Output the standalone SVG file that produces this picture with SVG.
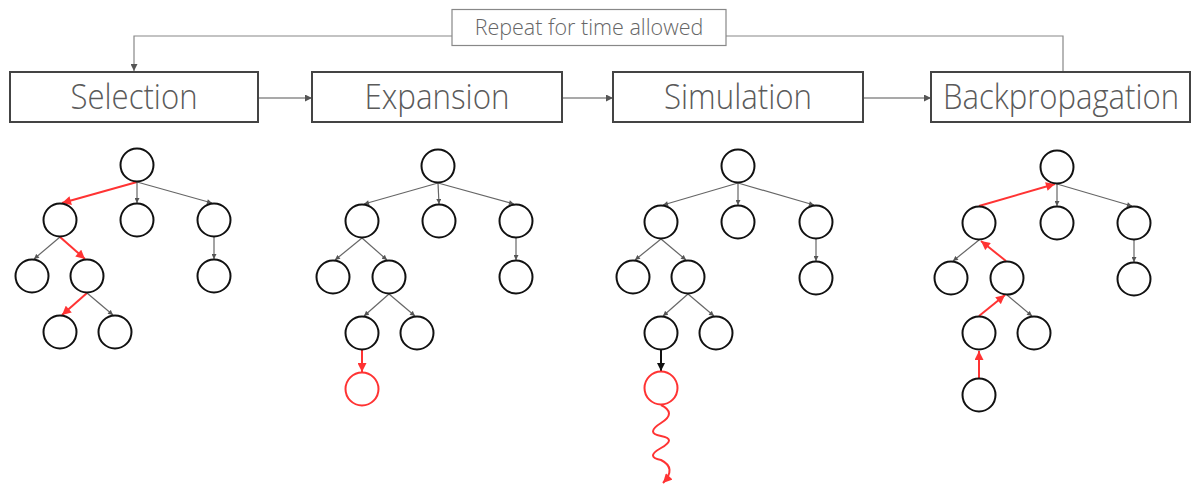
<svg xmlns="http://www.w3.org/2000/svg" width="1192" height="486" viewBox="0 0 1192 486">
<style>
.box{fill:#fff;stroke:#444;stroke-width:2}
.rbox{fill:#fff;stroke:#888;stroke-width:1.2}
.title{font-family:"Open Sans","Liberation Sans",sans-serif;font-weight:300;font-size:30px;fill:#5a5a5a;text-anchor:middle}
.rtxt{font-family:"Open Sans","Liberation Sans",sans-serif;font-weight:300;font-size:21.5px;fill:#666;text-anchor:middle}
.flow{fill:none;stroke:#555;stroke-width:1.2;marker-end:url(#af)}
.loop{fill:none;stroke:#888;stroke-width:1.2}
.n{fill:#fff;stroke:#111;stroke-width:2}
.nr{fill:#fff;stroke:#f33;stroke-width:2}
.eg{fill:none;stroke:#666;stroke-width:1.2;marker-end:url(#ag)}
.er{fill:none;stroke:#f33;stroke-width:2;marker-end:url(#ar)}
.eb{fill:none;stroke:#111;stroke-width:2;marker-end:url(#ab)}
</style>
<defs>
<marker id="af" viewBox="0 0 10 10" refX="10" refY="5" markerWidth="8" markerHeight="7" orient="auto" markerUnits="userSpaceOnUse"><path d="M0,0 L10,5 L0,10 z" fill="#555"/></marker>
<marker id="ag" viewBox="0 0 10 10" refX="10" refY="5" markerWidth="6" markerHeight="5" orient="auto" markerUnits="userSpaceOnUse"><path d="M0,0 L10,5 L0,10 z" fill="#555"/></marker>
<marker id="ar" viewBox="0 0 10 10" refX="10" refY="5" markerWidth="10" markerHeight="9" orient="auto" markerUnits="userSpaceOnUse"><path d="M0,0 L10,5 L0,10 z" fill="#f33"/></marker>
<marker id="ab" viewBox="0 0 10 10" refX="10" refY="5" markerWidth="9" markerHeight="8" orient="auto" markerUnits="userSpaceOnUse"><path d="M0,0 L10,5 L0,10 z" fill="#111"/></marker>
</defs>
<rect width="1192" height="486" fill="#fff"/>

<g id="connectors">
<path class="loop" d="M452,36 H134 V71" marker-end="url(#af)"/>
<path class="loop" d="M726,36 H1063 V72"/>
<path class="flow" d="M258,98 H312"/>
<path class="flow" d="M562,98 H613"/>
<path class="flow" d="M863,98 H931"/>
<!-- selection -->
<path class="er" d="M137,182 L62,203"/>
<path class="eg" d="M137,182 L137,203"/>
<path class="eg" d="M137,182 L212,203"/>
<path class="eg" d="M60,237 L34,259"/>
<path class="er" d="M60,237 L85,259"/>
<path class="eg" d="M214,237 L214,259"/>
<path class="er" d="M87,293 L62,315"/>
<path class="eg" d="M87,293 L113,315"/>
<!-- expansion -->
<path class="eg" d="M438,183 L364,204"/>
<path class="eg" d="M438,183 L439,204"/>
<path class="eg" d="M438,183 L514,204"/>
<path class="eg" d="M362,238 L335,260"/>
<path class="eg" d="M362,238 L387,260"/>
<path class="eg" d="M516,238 L516,260"/>
<path class="eg" d="M389,294 L364,316"/>
<path class="eg" d="M389,294 L415,316"/>
<path class="er" d="M362,350 L362,372"/>
<!-- simulation -->
<path class="eg" d="M738,183 L663,205"/>
<path class="eg" d="M738,183 L738,205"/>
<path class="eg" d="M738,183 L814,205"/>
<path class="eg" d="M661,239 L635,260"/>
<path class="eg" d="M661,239 L686,260"/>
<path class="eg" d="M816,239 L816,261"/>
<path class="eg" d="M688,294 L663,316"/>
<path class="eg" d="M688,294 L714,316"/>
<path class="eb" d="M661,350 L661,371"/>
<path class="er" d="M661,405 Q677,413 661,423 T661,436 T661,448 T661,460 Q677,468 663,483"/>
<!-- backpropagation -->
<path class="er" d="M979,206 L1055,184"/>
<path class="eg" d="M1057,184 L1057,206"/>
<path class="eg" d="M1057,184 L1132,206"/>
<path class="eg" d="M979,240 L953,261"/>
<path class="er" d="M1006,261 L981,241"/>
<path class="eg" d="M1134,240 L1134,262"/>
<path class="er" d="M979,316 L1005,295"/>
<path class="eg" d="M1007,295 L1032,316"/>
<path class="er" d="M979,378 L979,351"/>
</g>

<g id="repeat"><rect class="rbox" x="452" y="9.5" width="274" height="36"/><text class="rtxt" x="589" y="35">Repeat for time allowed</text></g>
<g id="selection"><rect class="box" x="10" y="72" width="248" height="50"/><text class="title" transform="translate(134,109) scale(1,1.17)" textLength="127" lengthAdjust="spacingAndGlyphs">Selection</text></g>
<g id="expansion"><rect class="box" x="312" y="72" width="250" height="50"/><text class="title" transform="translate(437,109) scale(1,1.17)" textLength="145" lengthAdjust="spacingAndGlyphs">Expansion</text></g>
<g id="simulation"><rect class="box" x="613" y="72" width="250" height="50"/><text class="title" transform="translate(738,109) scale(1,1.17)" textLength="148" lengthAdjust="spacingAndGlyphs">Simulation</text></g>
<g id="backpropagation"><rect class="box" x="931" y="72" width="259" height="50"/><text class="title" transform="translate(1061,109) scale(1,1.17)" textLength="236" lengthAdjust="spacingAndGlyphs">Backpropagation</text></g>

<g id="sel-n1"><circle class="n" cx="137" cy="165" r="16.5"/></g>
<g id="sel-n2"><circle class="n" cx="60" cy="220" r="16.5"/></g>
<g id="sel-n3"><circle class="n" cx="137" cy="220" r="16.5"/></g>
<g id="sel-n4"><circle class="n" cx="214" cy="220" r="16.5"/></g>
<g id="sel-n5"><circle class="n" cx="32" cy="276" r="16.5"/></g>
<g id="sel-n6"><circle class="n" cx="87" cy="276" r="16.5"/></g>
<g id="sel-n7"><circle class="n" cx="214" cy="276" r="16.5"/></g>
<g id="sel-n8"><circle class="n" cx="60" cy="332" r="16.5"/></g>
<g id="sel-n9"><circle class="n" cx="115" cy="332" r="16.5"/></g>

<g id="exp-n1"><circle class="n" cx="438" cy="166" r="16.5"/></g>
<g id="exp-n2"><circle class="n" cx="362" cy="221" r="16.5"/></g>
<g id="exp-n3"><circle class="n" cx="439" cy="221" r="16.5"/></g>
<g id="exp-n4"><circle class="n" cx="516" cy="221" r="16.5"/></g>
<g id="exp-n5"><circle class="n" cx="333" cy="277" r="16.5"/></g>
<g id="exp-n6"><circle class="n" cx="389" cy="277" r="16.5"/></g>
<g id="exp-n7"><circle class="n" cx="516" cy="277" r="16.5"/></g>
<g id="exp-n8"><circle class="n" cx="362" cy="333" r="16.5"/></g>
<g id="exp-n9"><circle class="n" cx="417" cy="333" r="16.5"/></g>
<g id="exp-n10"><circle class="nr" cx="362" cy="389" r="16.5"/></g>

<g id="sim-n1"><circle class="n" cx="738" cy="166" r="16.5"/></g>
<g id="sim-n2"><circle class="n" cx="661" cy="222" r="16.5"/></g>
<g id="sim-n3"><circle class="n" cx="738" cy="222" r="16.5"/></g>
<g id="sim-n4"><circle class="n" cx="816" cy="222" r="16.5"/></g>
<g id="sim-n5"><circle class="n" cx="633" cy="277" r="16.5"/></g>
<g id="sim-n6"><circle class="n" cx="688" cy="277" r="16.5"/></g>
<g id="sim-n7"><circle class="n" cx="816" cy="278" r="16.5"/></g>
<g id="sim-n8"><circle class="n" cx="661" cy="333" r="16.5"/></g>
<g id="sim-n9"><circle class="n" cx="716" cy="333" r="16.5"/></g>
<g id="sim-n10"><circle class="nr" cx="661" cy="388" r="16.5"/></g>

<g id="bp-n1"><circle class="n" cx="1057" cy="167" r="16.5"/></g>
<g id="bp-n2"><circle class="n" cx="979" cy="223" r="16.5"/></g>
<g id="bp-n3"><circle class="n" cx="1057" cy="223" r="16.5"/></g>
<g id="bp-n4"><circle class="n" cx="1134" cy="223" r="16.5"/></g>
<g id="bp-n5"><circle class="n" cx="951" cy="278" r="16.5"/></g>
<g id="bp-n6"><circle class="n" cx="1007" cy="278" r="16.5"/></g>
<g id="bp-n7"><circle class="n" cx="1134" cy="279" r="16.5"/></g>
<g id="bp-n8"><circle class="n" cx="979" cy="333" r="16.5"/></g>
<g id="bp-n9"><circle class="n" cx="1034" cy="333" r="16.5"/></g>
<g id="bp-n10"><circle class="n" cx="979" cy="395" r="16.5"/></g>
</svg>
